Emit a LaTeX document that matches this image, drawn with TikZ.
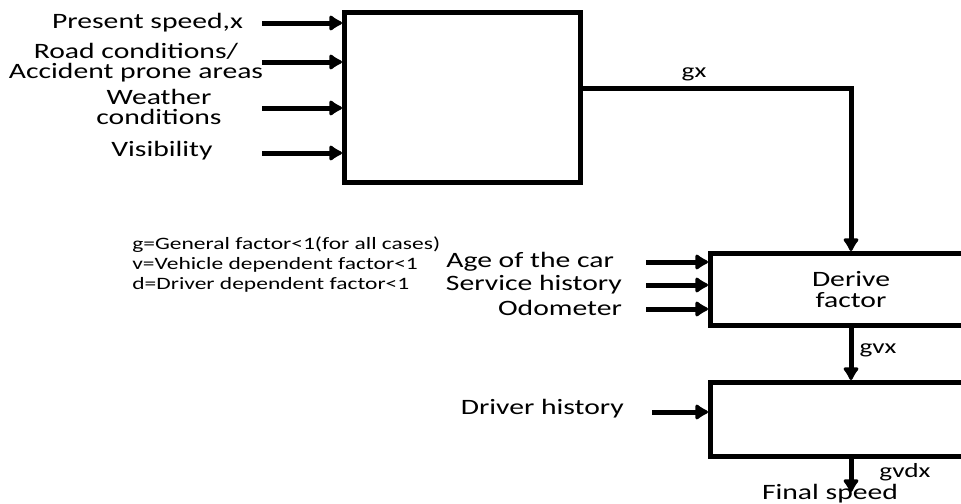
\documentclass[tikz,border=0pt]{standalone}
\usepackage{fontspec}
\setmainfont{Carlito}[FakeStretch=1.35]
\usetikzlibrary{arrows.meta,positioning}

\begin{document}
\begin{tikzpicture}[x=0.02cm, y=-0.02cm,
    blk/.style={draw, line width=0.1cm, inner sep=0pt, align=center, font=\fontsize{12.5}{12}\selectfont},
    arr/.style={-{Latex[length=0.3cm,width=0.38cm,round]}, line width=0.1cm},
    lbl/.style={font=\fontsize{12.5}{11}\selectfont, align=center, inner sep=1pt},
    sig/.style={font=\fontsize{11.5}{12}\selectfont, inner sep=1pt},
    note/.style={font=\fontsize{9.9}{11.4}\selectfont, align=left, inner sep=0pt}
]
\useasboundingbox (0,0) rectangle (961,504);
\clip (0,0) rectangle (961,504);

% blocks
\node[blk, minimum width=4.72cm, minimum height=3.4cm] (env) at (462.5,97.5) {};
\node[blk, minimum width=5.62cm, minimum height=1.44cm] (der) at (851,289.5) {Derive\\factor};
\node[blk, minimum width=5.62cm, minimum height=1.48cm] (drv) at (851,419.5) {};

% general inputs
\node[lbl, anchor=east] (spd) at (245,23) {Present speed,x};
\node[lbl] (road) at (136,62.5) {Road conditions/\\Accident prone areas};
\node[lbl] (wea) at (159,107) {Weather\\conditions};
\node[lbl] (vis) at (162,151) {Visibility};
\coordinate (i1) at (262,23);
\coordinate (i2) at (262,62);
\coordinate (i3) at (262,108);
\coordinate (i4) at (262,153);
\foreach \i in {i1,i2,i3,i4}
  \draw[arr] (\i) -- (\i -| env.west);

% vehicle inputs
\node[lbl, anchor=east] (age) at (616,262) {Age of the car};
\node[lbl, anchor=east] (svc) at (624,285) {Service history};
\node[lbl, anchor=east] (odo) at (624,308) {Odometer};
\coordinate (a1) at (646,262);
\coordinate (a2) at (646,285);
\coordinate (a3) at (646,309);
\foreach \i in {a1,a2,a3}
  \draw[arr] (\i) -- (\i -| der.west);

% driver input
\node[lbl, anchor=east] (hist) at (626,409) {Driver history};
\coordinate (h1) at (652,412);
\draw[arr] (h1) -- (h1 -| drv.west);

% signal flow
\coordinate (gxc) at (851,88);
\draw[arr] (env.east |- gxc) -- (gxc) -- (der.north);
\node[sig] (gx) at (694,74) {gx};
\draw[arr] (der.south) -- (drv.north);
\node[sig] (gvx) at (878,350) {gvx};
\coordinate (out) at (851,492);
\draw[arr] (drv.south) -- (out);
\node[sig] (gvdx) at (905,472) {gvdx};
\node[lbl] (fin) at (830,494) {Final speed};

% key
\node[note, anchor=north west] (key) at (132,236) {g=General factor<1(for all cases)\\v=Vehicle dependent factor<1\\d=Driver dependent factor<1};
\end{tikzpicture}
\end{document}
